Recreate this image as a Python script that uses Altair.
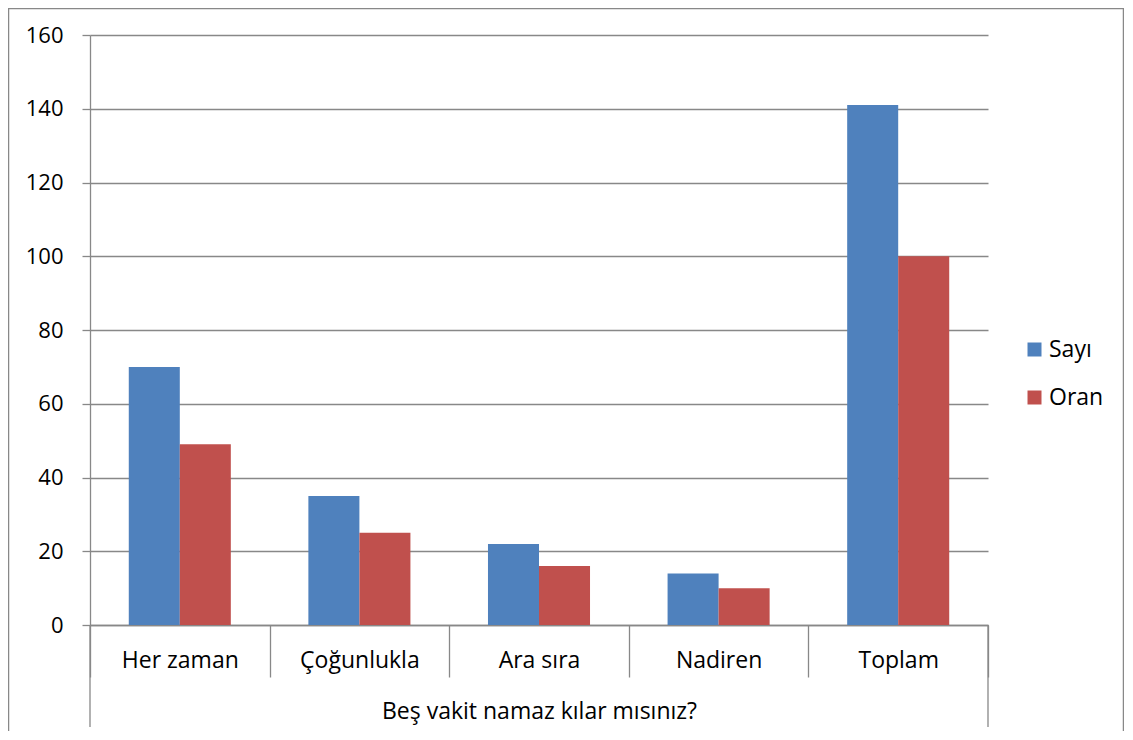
import altair as alt
import pandas as pd

categories = ["Her zaman", "Çoğunlukla", "Ara sıra", "Nadiren", "Toplam"]
series = ["Sayı", "Oran"]
sayi = [70, 35, 22, 14, 141]
oran = [49, 25, 16, 10, 100]
y_ticks = [0, 20, 40, 60, 80, 100, 120, 140, 160]
colors = ["#4F81BD", "#C0504D"]
x_title = "Beş vakit namaz kılar mısınız?"

rows = []
for c, s, o in zip(categories, sayi, oran):
    rows.append({"cat": c, "series": "Sayı", "value": s})
    rows.append({"cat": c, "series": "Oran", "value": o})
df = pd.DataFrame(rows)

W, H = 898, 590
FONT = "Open Sans"
GRAY = "#888888"
FS = 23

bars = alt.Chart(df).mark_bar().encode(
    x=alt.X("cat:N", sort=categories,
            scale=alt.Scale(paddingInner=0, paddingOuter=0),
            axis=alt.Axis(title=x_title, labelAngle=0, tickBand="extent",
                          tickSize=52, tickColor=GRAY, tickWidth=1.3,
                          domainColor=GRAY, domainWidth=1.3,
                          labelFontSize=FS, labelFont=FONT, labelColor="#000",
                          labelBaseline="middle", labelPadding=-17,
                          titleFont=FONT, titleFontSize=FS, titleFontWeight="normal",
                          titleColor="#000", titleX=W / 2, titleY=86,
                          titleAlign="center", titleBaseline="middle",
                          grid=False)),
    xOffset=alt.XOffset("series:N", sort=series,
                        scale=alt.Scale(paddingInner=0, paddingOuter=0.76)),
    y=alt.Y("value:Q", scale=alt.Scale(domain=[0, 160], nice=False),
            axis=alt.Axis(title=None, values=y_ticks, grid=True,
                          gridColor=GRAY, gridWidth=1.3,
                          tickColor=GRAY, tickWidth=1.3, tickSize=8,
                          domainColor=GRAY, domainWidth=1.3,
                          labelFontSize=22, labelFont=FONT, labelColor="#000",
                          labelPadding=19)),
    color=alt.Color("series:N", sort=series,
                    scale=alt.Scale(domain=series, range=colors),
                    legend=alt.Legend(title=None, orient="none", legendX=933,
                                      legendY=303, symbolType="square",
                                      symbolSize=196, symbolStrokeWidth=0,
                                      labelFontSize=FS, labelFont=FONT,
                                      labelColor="#000", rowPadding=24,
                                      labelOffset=3)),
)

ext_lines = alt.Chart(pd.DataFrame({"x": [0, W]})).mark_rule(
    color=GRAY, strokeWidth=1.3
).encode(x=alt.X("x:Q", scale=None), y=alt.value(H), y2=alt.value(H + 102))

border = alt.Chart(pd.DataFrame({"a": [0]})).mark_rect(
    fill=None, stroke=GRAY, strokeWidth=1.5
).encode(x=alt.value(-81.5), x2=alt.value(W + 135.5),
         y=alt.value(-26.5), y2=alt.value(H + 140))

chart = alt.layer(bars, ext_lines, border).properties(
    width=W, height=H,
    autosize=alt.AutoSizeParams(type="none"),
    padding={"left": 82, "top": 27, "right": 136, "bottom": 106},
).configure_view(stroke=None)

chart.save("out.html", embed_options={"renderer": "svg", "actions": False})
